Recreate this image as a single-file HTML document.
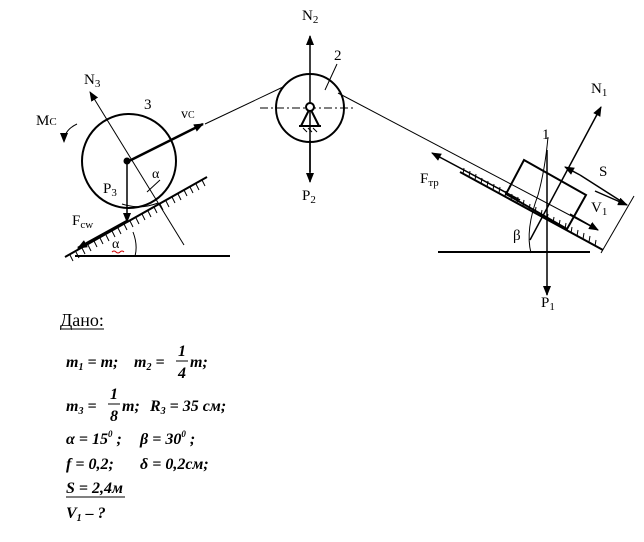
<!DOCTYPE html>
<html><head><meta charset="utf-8"><style>
html,body{margin:0;padding:0;background:#fff;width:644px;height:542px;overflow:hidden}
svg{display:block}
text{font-family:"Liberation Serif","DejaVu Serif",serif;fill:#000}
.f{font-style:italic;font-weight:bold;font-size:16px}
</style></head><body>
<svg width="644" height="542" viewBox="0 0 644 542" xmlns="http://www.w3.org/2000/svg">
<defs>
<marker id="a" markerWidth="10" markerHeight="8" refX="9" refY="4" orient="auto" markerUnits="userSpaceOnUse"><path d="M0,0 L10,4 L0,8 Z" fill="#000"/></marker>
</defs>
<g stroke="#000" fill="none">
<line x1="65" y1="257" x2="207" y2="177" stroke-width="2"/>
<line x1="75" y1="256" x2="230" y2="256" stroke-width="2"/>
<path d="M70,255 l3,6 M76,252 l3,6 M82,248 l3,6 M88,245 l3,6 M94,241 l3,6 M100,238 l3,6 M106,235 l3,6 M112,231 l3,6 M118,228 l3,6 M124,224 l3,6 M130,221 l3,6 M136,218 l3,6 M142,214 l3,6 M148,211 l3,6 M154,207 l3,6 M160,204 l3,6 M166,201 l3,6 M172,197 l3,6 M178,194 l3,6 M184,190 l3,6 M190,187 l3,6 M196,184 l3,6 M202,180 l3,6" stroke-width="1"/>
<circle cx="129" cy="161" r="47" stroke-width="2"/>
<line x1="129" y1="161" x2="203" y2="124" stroke-width="2.5" marker-end="url(#a)"/>
<line x1="205" y1="124" x2="283" y2="87" stroke-width="1"/>
<line x1="184" y1="245" x2="90" y2="92" stroke-width="1" marker-end="url(#a)"/>
<line x1="127" y1="161" x2="127" y2="222" stroke-width="1.5" marker-end="url(#a)"/>
<line x1="127" y1="221" x2="78" y2="248" stroke-width="2.5" marker-end="url(#a)"/>
<path d="M122,204 Q140,210 158,203" stroke-width="1"/>
<line x1="147" y1="192" x2="160" y2="180" stroke-width="1"/>
<path d="M133,232 Q138,245 135,256" stroke-width="1"/>
<path d="M77,124 Q64,130 64,142" stroke-width="1" marker-end="url(#a)"/>
<circle cx="127" cy="161" r="3" fill="#000"/>
<circle cx="310" cy="108" r="34" stroke-width="2"/>
<line x1="260" y1="108" x2="355" y2="108" stroke-width="1" stroke-dasharray="8,3,2,3"/>
<line x1="310" y1="172" x2="310" y2="36" stroke-width="1.5" marker-end="url(#a)"/>
<line x1="310" y1="140" x2="310" y2="182" stroke-width="1.5" marker-end="url(#a)"/>
<path d="M310,108 L301,126 M310,108 L319,126 M299,126 L321,126" stroke-width="2"/>
<path d="M303,128 l4,4 M308,128 l4,4 M313,128 l4,4" stroke-width="1"/>
<circle cx="310" cy="107" r="4" fill="#fff" stroke-width="2"/>
<line x1="337" y1="64" x2="325" y2="90" stroke-width="1"/>
<line x1="338" y1="93" x2="598" y2="230" stroke-width="1"/>
<line x1="460" y1="172" x2="603" y2="250" stroke-width="2"/>
<line x1="438" y1="252" x2="590" y2="252" stroke-width="2"/>
<path d="M463,174 l1,-6 M469,177 l1,-6 M475,180 l1,-6 M481,184 l1,-6 M487,187 l1,-6 M493,190 l1,-6 M499,193 l1,-6 M505,197 l1,-6 M511,200 l1,-6 M517,203 l1,-6 M523,206 l1,-6 M529,210 l1,-6 M535,213 l1,-6 M541,216 l1,-6 M547,220 l1,-6 M553,223 l1,-6 M559,226 l1,-6 M565,229 l1,-6 M571,233 l1,-6 M577,236 l1,-6 M583,239 l1,-6 M589,242 l1,-6 M595,246 l1,-6" stroke-width="1"/>
<polygon points="524,160 586,195 567,229 506,194" stroke-width="2"/>
<line x1="520" y1="200" x2="432" y2="153" stroke-width="1.5" marker-end="url(#a)"/>
<line x1="570" y1="214" x2="598" y2="230" stroke-width="1.5" marker-end="url(#a)"/>
<line x1="530" y1="240" x2="601" y2="107" stroke-width="1.5" marker-end="url(#a)"/>
<line x1="547" y1="150" x2="547" y2="295" stroke-width="1.5" marker-end="url(#a)"/>
<path d="M548,137 Q545,170 538,195 Q525,230 531,253" stroke-width="1"/>
<line x1="580" y1="175" x2="565" y2="167" stroke-width="1.5" marker-end="url(#a)"/>
<line x1="595" y1="191" x2="627" y2="205" stroke-width="1.5" marker-end="url(#a)"/>
<line x1="580" y1="175" x2="627" y2="205" stroke-width="1.5"/>
<line x1="601" y1="253" x2="634" y2="196" stroke-width="1"/>
</g>
<g font-size="15">
<text x="84" y="84">N<tspan font-size="11" dy="3">3</tspan></text>
<text x="144" y="109">3</text>
<text x="181" y="118" font-size="14">v<tspan font-size="10">C</tspan></text>
<text x="36" y="125">M<tspan font-size="11">C</tspan></text>
<text x="103" y="193">P<tspan font-size="11" dy="3">3</tspan></text>
<text x="152" y="178" font-size="14">α</text>
<text x="72" y="225">F<tspan font-size="11" dy="3">cw</tspan></text>
<text x="112" y="248" font-size="14">α</text>
<path d="M112,252 q2,-2 4,0 q2,2 4,0 q2,-2 4,0" stroke="#c00" fill="none" stroke-width="1"/>
<text x="302" y="20">N<tspan font-size="11" dy="3">2</tspan></text>
<text x="334" y="60">2</text>
<text x="302" y="200">P<tspan font-size="11" dy="3">2</tspan></text>
<text x="591" y="93">N<tspan font-size="11" dy="3">1</tspan></text>
<text x="542" y="139">1</text>
<text x="599" y="176">S</text>
<text x="420" y="183">F<tspan font-size="11" dy="3">тр</tspan></text>
<text x="591" y="212">V<tspan font-size="11" dy="3">1</tspan></text>
<text x="513" y="240">β</text>
<text x="541" y="307">P<tspan font-size="11" dy="3">1</tspan></text>
</g>
<text x="60" y="326" font-size="18">Дано:</text>
<line x1="60" y1="329" x2="104" y2="329" stroke="#000"/>
<text class="f" x="66" y="367">m<tspan font-size="10" dy="3">1</tspan><tspan dy="-3"> = m;</tspan></text>
<text class="f" x="134" y="367">m<tspan font-size="10" dy="3">2</tspan><tspan dy="-3"> =</tspan></text>
<text class="f" x="178" y="356" font-size="15">1</text>
<line x1="176" y1="361" x2="188" y2="361" stroke="#000"/>
<text class="f" x="178" y="378" font-size="15">4</text>
<text class="f" x="190" y="367">m;</text>
<text class="f" x="66" y="411">m<tspan font-size="10" dy="3">3</tspan><tspan dy="-3"> =</tspan></text>
<text class="f" x="110" y="399" font-size="15">1</text>
<line x1="108" y1="404" x2="120" y2="404" stroke="#000"/>
<text class="f" x="110" y="421" font-size="15">8</text>
<text class="f" x="122" y="411">m;<tspan x="150">R</tspan><tspan font-size="10" dy="3">3</tspan><tspan dy="-3"> = 35 см;</tspan></text>
<text class="f" x="66" y="444">α = 15<tspan font-size="9" dy="-7">0</tspan><tspan dy="7"> ;</tspan><tspan x="140">β = 30</tspan><tspan font-size="9" dy="-7">0</tspan><tspan dy="7"> ;</tspan></text>
<text class="f" x="66" y="469">f = 0,2;<tspan x="140">δ = 0,2см;</tspan></text>
<text class="f" x="66" y="493">S = 2,4м</text>
<line x1="66" y1="497" x2="125" y2="497" stroke="#000"/>
<text class="f" x="66" y="518">V<tspan font-size="10" dy="3">1</tspan><tspan dy="-3"> – ?</tspan></text>
</svg>
</body></html>
